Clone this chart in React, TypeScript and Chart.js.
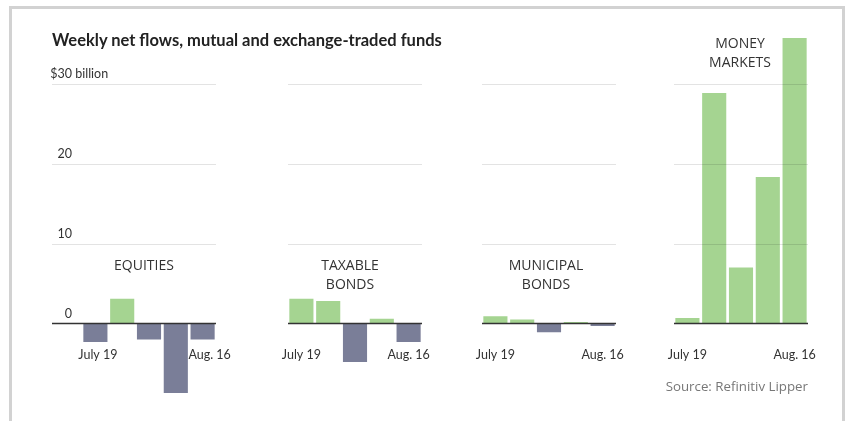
import React, { useEffect, useRef } from "react";
import { Chart, registerables } from "chart.js";

Chart.register(...registerables);

// ---------- data ----------
const categories = ["July 19", "July 26", "Aug. 2", "Aug. 9", "Aug. 16"];
const equities = [-2.3, 3.1, -2.0, -8.7, -2.0];
const taxableBonds = [3.1, 2.8, -4.8, 0.6, -2.3];
const municipalBonds = [0.9, 0.5, -1.1, 0.2, -0.3];
const moneyMarkets = [0.7, 28.8, 7.0, 18.3, 35.7];
const gridValues = [0, 10, 20, 30];
const yTickLabels = ["0", "10", "20", "$30"];
const yUnitSuffix = " billion";
const titleText = "Weekly net flows, mutual and exchange-traded funds";
const sourceText = "Source: Refinitiv Lipper";

// ---------- layout / style ----------
const W = 846;
const H = 421;
const Y_MIN = -10;
const Y_MAX = 36;
const PLOT_TOP = 35.5;
const PLOT_BOTTOM = 403.5;
const GREEN = "rgb(165,212,145)";
const GRAY = "rgb(122,126,152)";

type Panel = {
  name: string[];
  values: number[];
  left: number;
  right: number;
  gridLeft?: number;
  showY?: boolean;
  labelShift?: number[];
  nameX: number;
  nameY: number;
};

const panels: Panel[] = [
  { name: ["EQUITIES"], values: equities, left: 82, right: 216, gridLeft: 52, showY: true, labelShift: [2.5, 7], nameX: 144, nameY: 266 },
  { name: ["TAXABLE", "BONDS"], values: taxableBonds, left: 288, right: 422, nameX: 350, nameY: 266 },
  { name: ["MUNICIPAL", "BONDS"], values: municipalBonds, left: 482, right: 616, nameX: 546, nameY: 266 },
  { name: ["MONEY", "MARKETS"], values: moneyMarkets, left: 674, right: 808, nameX: 740, nameY: 44 },
];

const LABEL_FONT = "12.5px Lato";

const overlayPlugin = {
  id: "overlay",
  afterDatasetsDraw(chart: any, _args: any, opts: any) {
    const { ctx, chartArea, scales } = chart;
    const x = scales.x;
    const y = scales.y;
    const left = opts.gridLeft ?? chartArea.left;
    ctx.save();
    // grid lines
    gridValues.forEach((v) => {
      if (v === 0) return;
      const py = Math.round(y.getPixelForValue(v)) + 0.5;
      ctx.strokeStyle = "rgba(0,0,0,0.11)";
      ctx.lineWidth = 1;
      ctx.beginPath();
      ctx.moveTo(left, py);
      ctx.lineTo(chartArea.right, py);
      ctx.stroke();
    });
    // zero line
    const zy = y.getPixelForValue(0);
    ctx.strokeStyle = "#333";
    ctx.lineWidth = 1.5;
    ctx.beginPath();
    ctx.moveTo(left, zy);
    ctx.lineTo(chartArea.right, zy);
    ctx.stroke();
    // y labels
    if (opts.showY) {
      ctx.font = LABEL_FONT;
      ctx.fillStyle = "#333";
      ctx.textBaseline = "middle";
      gridValues.forEach((v, i) => {
        const py = y.getPixelForValue(v) - 10;
        ctx.textAlign = "right";
        ctx.fillText(yTickLabels[i], left + 20, py);
        if (i === gridValues.length - 1) {
          ctx.textAlign = "left";
          ctx.fillText(yUnitSuffix, left + 20, py);
        }
      });
    }
    // x labels (first and last only)
    ctx.font = LABEL_FONT;
    ctx.fillStyle = "#333";
    ctx.textAlign = "center";
    ctx.textBaseline = "middle";
    const shift = opts.labelShift || [0, 0];
    [0, categories.length - 1].forEach((i, k) => {
      ctx.fillText(categories[i], x.getPixelForValue(i) + shift[k], zy + 31.5);
    });
    ctx.restore();
  },
};

function PanelChart({ panel }: { panel: Panel }) {
  const ref = useRef<HTMLCanvasElement>(null);
  useEffect(() => {
    if (!ref.current) return;
    const chart = new Chart(ref.current, {
      type: "bar",
      data: {
        labels: categories,
        datasets: [
          {
            data: panel.values,
            backgroundColor: panel.values.map((v) => (v >= 0 ? GREEN : GRAY)),
            barPercentage: 0.9,
            categoryPercentage: 1,
          },
        ],
      },
      options: {
        responsive: false,
        animation: false,
        events: [],
        layout: {
          padding: {
            left: panel.left,
            right: W - panel.right,
            top: PLOT_TOP,
            bottom: H - PLOT_BOTTOM,
          },
        },
        scales: {
          x: { display: false },
          y: { display: false, min: Y_MIN, max: Y_MAX },
        },
        plugins: {
          legend: { display: false },
          tooltip: { enabled: false },
          overlay: { gridLeft: panel.gridLeft, showY: panel.showY, labelShift: panel.labelShift },
        } as any,
      },
      plugins: [overlayPlugin],
    });
    return () => chart.destroy();
  }, [panel]);
  return (
    <canvas
      ref={ref}
      width={W}
      height={H}
      style={{ position: "absolute", left: 0, top: 0, width: W, height: H }}
    />
  );
}

export default function App() {
  return (
    <div
      style={{
        position: "fixed",
        left: 0,
        top: 0,
        width: W,
        height: H,
        background: "#fff",
        overflow: "hidden",
      }}
    >
      <div
        style={{
          position: "absolute",
          left: 9,
          top: 6,
          width: 830,
          height: 440,
          borderLeft: "3px solid #d2d2d2",
          borderTop: "3px solid #d2d2d2",
          borderRight: "3px solid #d2d2d2",
        }}
      />
      {panels.map((p, i) => (
        <PanelChart key={i} panel={p} />
      ))}
      <div
        style={{
          position: "absolute",
          left: 52,
          top: 30,
          font: "bold 16.5px Lato",
          color: "#222",
          whiteSpace: "nowrap",
        }}
      >
        {titleText}
      </div>
      {panels.map((p, i) => (
        <div
          key={"n" + i}
          style={{
            position: "absolute",
            left: p.nameX,
            top: p.nameY - 10,
            transform: "translateX(-50%)",
            textAlign: "center",
            font: "14px 'Open Sans'",
            lineHeight: "18.5px",
            color: "#333",
            whiteSpace: "nowrap",
          }}
        >
          {p.name.map((l, j) => (
            <div key={j}>{l}</div>
          ))}
        </div>
      ))}
      <div
        style={{
          position: "absolute",
          right: W - 808,
          top: 377,
          font: "13.3px 'Open Sans'",
          color: "#777",
          whiteSpace: "nowrap",
        }}
      >
        {sourceText}
      </div>
    </div>
  );
}
